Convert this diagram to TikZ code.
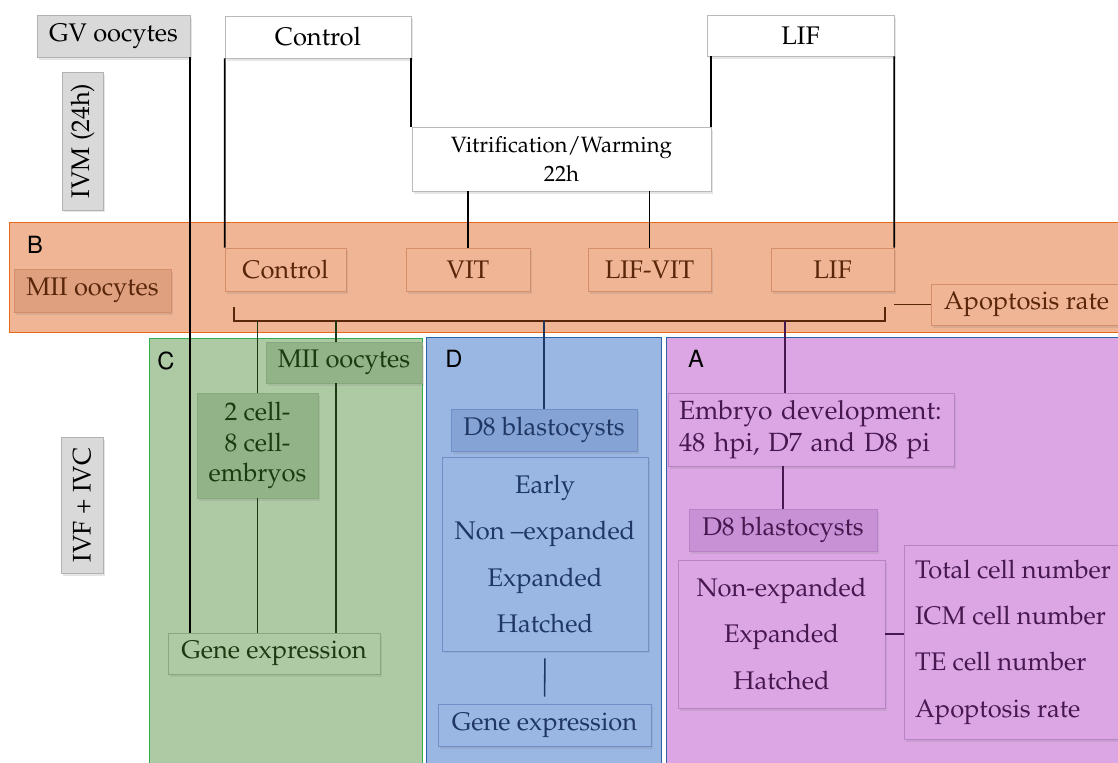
\documentclass[tikz,border=0pt]{standalone}
\usepackage[T1]{fontenc}
\usepackage{mathpazo}
\usetikzlibrary{shadows}
\definecolor{Bfill}{HTML}{F0B595}
\definecolor{Bedge}{HTML}{E86A17}
\definecolor{Bbord}{HTML}{D48E6A}
\definecolor{Bdark}{HTML}{DFA080}
\definecolor{Btext}{HTML}{5A260A}
\definecolor{Cfill}{HTML}{AECAA4}
\definecolor{Cedge}{HTML}{2EB04E}
\definecolor{Cbord}{HTML}{86A87C}
\definecolor{Cdark}{HTML}{92B288}
\definecolor{Ctext}{HTML}{1B3A12}
\definecolor{Dfill}{HTML}{9AB6E3}
\definecolor{Dedge}{HTML}{2D64A6}
\definecolor{Dbord}{HTML}{6F8FC6}
\definecolor{Ddark}{HTML}{86A3D5}
\definecolor{Dtext}{HTML}{1E3764}
\definecolor{Afill}{HTML}{DCA6E4}
\definecolor{Aedge}{HTML}{2D64A6}
\definecolor{Abord}{HTML}{B783C4}
\definecolor{Adark}{HTML}{C890D5}
\definecolor{Atext}{HTML}{46184F}
\definecolor{Grey}{HTML}{D9D9D9}
\tikzset{box/.style = {rectangle, inner sep=2pt, align=center,
                       font=\fontsize{14.5}{17}\selectfont,
                       drop shadow={opacity=0.2, shadow xshift=0.04cm, shadow yshift=-0.05cm}},
         topbox/.style = {box, draw=gray!55, fill=white},
         greybox/.style = {box, draw=gray!60, fill=Grey},
         Bbox/.style = {box, draw=Bbord, fill=Bfill, text=Btext},
         Bdarkbox/.style = {box, draw=Bbord, fill=Bdark, text=Btext},
         Cbox/.style = {box, draw=Cbord, fill=Cfill, text=Ctext},
         Cdarkbox/.style = {box, draw=Cbord, fill=Cdark, text=Ctext},
         Dbox/.style = {box, draw=Dbord, fill=Dfill, text=Dtext},
         Ddarkbox/.style = {box, draw=Dbord, fill=Ddark, text=Dtext},
         Abox/.style = {box, draw=Abord, fill=Afill, text=Atext},
         Adarkbox/.style = {box, draw=Abord, fill=Adark, text=Atext},
         letter/.style = {font=\fontsize{13.5}{16}\fontfamily{phv}\selectfont},
         conn/.style = {line width=1pt},
         wide/.style = {font=\fontsize{14.5}{26.4}\selectfont}}

\begin{document}
\begin{tikzpicture}[x=0.02cm, y=-0.02cm]
      \useasboundingbox (0,0) rectangle (1118,762);

      \draw [Bedge, fill=Bfill] (9,222) rectangle (1125,332);
      \draw [Cedge, fill=Cfill] (149,338) rectangle (422,770);
      \draw [Dedge, fill=Dfill] (426,337) rectangle (661,770);
      \draw [Aedge, fill=Afill] (666,337) rectangle (1125,770);

      \node [letter] (lblB) at (35,245) {B};
      \node [letter] (lblC) at (166,361) {C};
      \node [letter] (lblD) at (454,359) {D};
      \node [letter] (lblA) at (696,359) {A};

      \node [greybox, minimum width=3.06cm, minimum height=0.84cm] (gv) at (113.5,36) {GV oocytes};
      \node [greybox, rotate=90, minimum width=2.76cm, minimum height=0.82cm] (ivm) at (82.5,141) {IVM (24h)};
      \node [greybox, rotate=90, minimum width=2.72cm, minimum height=0.84cm] (ivf) at (82,505) {IVF + IVC};
      \node [topbox, minimum width=3.72cm, minimum height=0.84cm] (ctltop) at (318,37) {Control};
      \node [topbox, minimum width=3.74cm, minimum height=0.82cm] (liftop) at (800.5,35.5) {LIF};
      \node [topbox, minimum width=5.98cm, minimum height=1.28cm,
             font=\fontsize{12.6}{16}\selectfont] (vitri) at (561.5,159) {Vitrification/Warming\\22h};

      \node [Bdarkbox, minimum width=3.14cm, minimum height=0.86cm] (miiB) at (92.5,290.5) {MII oocytes};
      \node [Bbox, minimum width=2.42cm, minimum height=0.86cm] (ctlB) at (285.5,269.5) {Control};
      \node [Bbox, minimum width=2.48cm, minimum height=0.86cm] (vit) at (468,269.5) {VIT};
      \node [Bbox, minimum width=2.46cm, minimum height=0.86cm] (lifvit) at (649.5,269.5) {LIF-VIT};
      \node [Bbox, minimum width=2.46cm, minimum height=0.86cm] (lifB) at (832.5,269.5) {LIF};
      \node [Bbox, minimum width=3.82cm, minimum height=0.82cm] (apopB) at (1026.5,304.5) {Apoptosis rate};

      \node [Cdarkbox, minimum width=3.12cm, minimum height=0.82cm] (miiC) at (344,362.5) {MII oocytes};
      \node [Cdarkbox, minimum width=2.42cm, minimum height=2.1cm,
             font=\fontsize{14.5}{17.4}\selectfont] (cell) at (257.5,445.5) {2 cell-\\8 cell-\\embryos};
      \node [Cbox, minimum width=4.24cm, minimum height=0.82cm] (geneC) at (274,653.5) {Gene expression};

      \node [Ddarkbox, minimum width=3.72cm, minimum height=0.84cm] (d8D) at (544,430) {D8 blastocysts};
      \node [Dbox, wide, minimum width=4.12cm, minimum height=3.88cm] (stagesD) at (545,554)
            {Early\\Non --expanded\\Expanded\\Hatched};
      \node [Dbox, minimum width=4.26cm, minimum height=0.84cm] (geneD) at (544.5,725) {Gene expression};

      \node [Abox, align=left, inner xsep=0.22cm, text width=5.28cm, minimum height=1.46cm,
             font=\fontsize{15}{18.2}\selectfont] (embryo) at (811,429.5)
            {Embryo development:\\48 hpi, D7 and D8 pi};
      \node [Adarkbox, minimum width=3.76cm, minimum height=0.84cm] (d8A) at (783,530) {D8 blastocysts};
      \node [Abox, wide, minimum width=4.14cm, minimum height=2.96cm] (stagesA) at (781.5,634)
            {Non-expanded\\Expanded\\Hatched};
      \node [Abox, wide, align=left, minimum width=4.36cm, minimum height=3.88cm] (measA)
            at (1013,642) {Total cell number\\ICM cell number\\TE cell number\\Apoptosis rate};

      % top part
      \draw [conn] (ctltop.south west) -- (ctlB.north west);
      \draw [conn] (ctltop.south east) -- (ctltop.south east |- vitri.north);
      \draw [conn] (vitri.north east) -- (vitri.north east |- liftop.south);
      \draw [conn] (liftop.south east) -- (lifB.north east);
      \draw [conn] (vit.north) -- (vit.north |- vitri.south);
      \draw [conn] (lifvit.north) -- (lifvit.north |- vitri.south);
      \draw [conn] (gv.south east) -- (gv.south east |- geneC.north);

      % bracket
      \coordinate (brL) at (234,321);
      \coordinate (brR) at (885,321);
      \draw [Btext, line width=0.9pt] (brL) ++(0,-14) -- (brL) -- (brR) -- ++(0,-14);
      \draw [Btext, line width=0.9pt] (lifB.south east |- apopB.west) -- (apopB.west);

      \coordinate (tapC) at (336,321);
      \coordinate (tapA) at (785,321);
      \draw [Ctext, line width=0.9pt] (cell.north) -- (cell.north |- brL);
      \draw [Ctext, line width=0.9pt] (tapC) -- (tapC |- miiC.north);
      \draw [Ctext, line width=0.9pt] (tapC |- miiC.south) -- (tapC |- geneC.north);
      \draw [Ctext, line width=0.9pt] (cell.south) -- (cell.south |- geneC.north);

      \draw [Dtext, line width=0.9pt] (d8D.north) -- (d8D.north |- brL);
      \draw [Dtext, line width=0.9pt, shorten <=0.14cm, shorten >=0.14cm] (stagesD.south) -- (geneD.north);

      \draw [Atext, line width=0.9pt] (tapA) -- (tapA |- embryo.north);
      \draw [Atext, line width=0.9pt] (d8A.north) -- (d8A.north |- embryo.south);
      \draw [Atext, line width=0.9pt] (stagesA.east) -- (stagesA.east -| measA.west);
    \end{tikzpicture}
\end{document}
